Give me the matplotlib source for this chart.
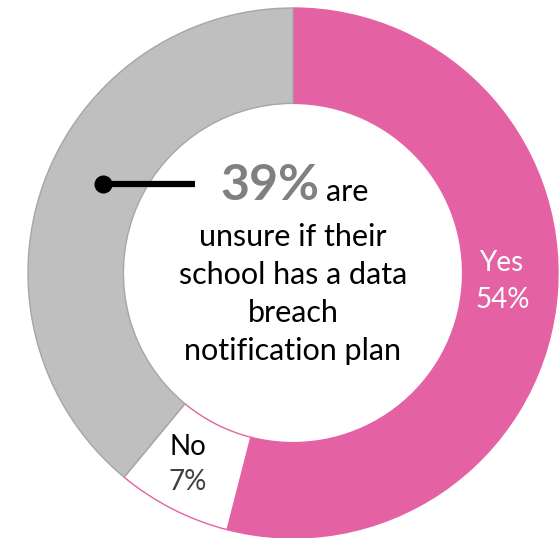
import numpy as np
import matplotlib.pyplot as plt

plt.rcParams['font.family'] = ['Lato', 'DejaVu Sans']

# --- Data ---
labels = ["Yes", "No", "Unsure"]
shares = [54, 7, 39]
fill_colors = ["#E462A4", "#FFFFFF", "#BFBFBF"]
edge_colors = ["#E462A4", "#E462A4", "#A6A6A6"]
callout_value = "39%"
callout_lines = ["unsure if their", "school has a data", "breach", "notification plan"]

# --- Figure: 265 px per data unit, ring centred at (293, 273) px ---
W, H, R = 560, 538, 265.0
cx, cy = 293, 273
fig = plt.figure(figsize=(W / 100, H / 100), dpi=100)
ax = fig.add_axes([0, 0, 1, 1])
ax.axis('off')

wedges, _ = ax.pie(shares, startangle=90, counterclock=False, radius=1.0,
                   colors=fill_colors,
                   wedgeprops=dict(width=0.36, linewidth=1.0))
ax.set_xlim(-cx / R, (W - cx) / R)
ax.set_ylim(-(H - cy) / R, cy / R)
ax.set_aspect('auto')
for w, ec in zip(wedges, edge_colors):
    w.set_edgecolor(ec)

def px(x, y):
    # pixel (from top-left) -> data coords
    return (x - cx) / R, (cy - y) / R

# segment labels
x, y = px(501, 263)
ax.text(x, y, labels[0], color='white', fontsize=20, ha='center', va='center')
x, y = px(503, 300)
ax.text(x, y, f"{shares[0]}%", color='white', fontsize=20, ha='center', va='center')
x, y = px(188, 447)
ax.text(x, y, labels[1], color='black', fontsize=20, ha='center', va='center')
x, y = px(188, 482)
ax.text(x, y, f"{shares[1]}%", color='#404040', fontsize=20, ha='center', va='center')

# callout line with dot
x0, y0 = px(103, 184)
x1, _ = px(195, 184)
ax.plot([x0, x1], [y0, y0], color='black', lw=4.5, solid_capstyle='butt')
ax.plot([x0], [y0], 'o', color='black', ms=12)

# centre text
x, y = px(319, 186)
ax.text(x, y, callout_value, color='#808080', fontsize=36, fontweight='bold',
        ha='right', va='center')
x, y = px(326, 192)
ax.text(x, y, "are", color='black', fontsize=22, ha='left', va='center')
for i, line in enumerate(callout_lines):
    x, y = px(293, 237 + i * 38)
    ax.text(x, y, line, color='black', fontsize=22, ha='center', va='center')

fig.savefig('out.png', dpi=100)
